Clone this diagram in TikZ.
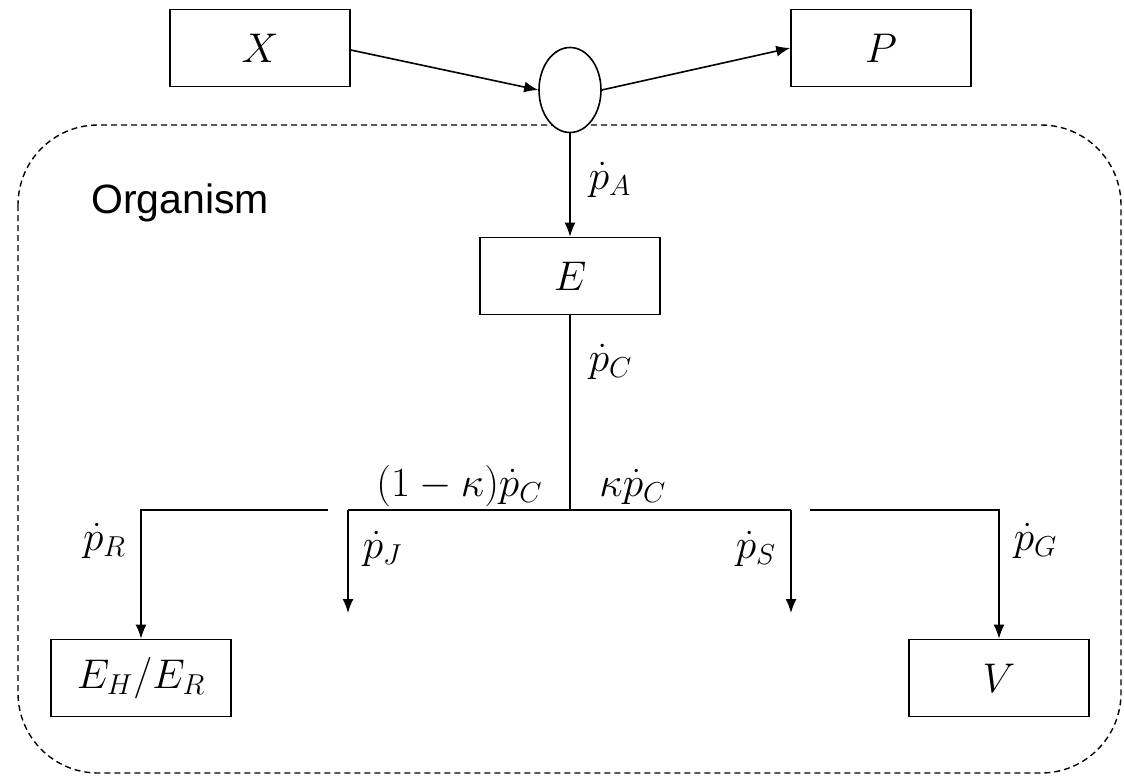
\documentclass[tikz,border=0pt]{standalone}
\usepackage{fontspec}
\setsansfont{Liberation Sans}
\usepackage{tikz}
\usetikzlibrary{shapes.geometric,positioning,arrows.meta}

\begin{document}
\begin{tikzpicture}[
    x=0.5pt, y=-0.5pt,
    box/.style={rectangle, draw, line width=0.8pt, minimum width=90pt, minimum height=38.5pt, align=center, fill=white, font=\fontsize{20}{24}\selectfont},
    flux/.style={font=\fontsize{20}{24}\selectfont, inner sep=1pt},
    arrow/.style={-{Latex[length=7pt,width=5.5pt]}, line width=0.8pt},
    line/.style={line width=0.8pt}
]
    \useasboundingbox (0,0) rectangle (1124,776);

    % Organism boundary
    \draw[dashed, dash pattern=on 3pt off 2pt, line width=0.7pt, rounded corners=40pt] (18,125) rectangle (1121,773);
    \node[font=\sffamily\fontsize{20.5}{24}\selectfont] (organism) at (180,203) {Organism};

    % Food, faeces and assimilation
    \node[box] (food) at (260,48) {$X$};
    \node[box] (faeces) at (881,48) {$P$};
    \node[ellipse, draw, line width=0.8pt, fill=white, minimum width=31pt, minimum height=42.5pt, inner sep=0pt] (assim) at (570,90) {};

    \draw[arrow] (food.east |- 0,50) -- (assim.west);
    \draw[arrow] (assim.east) -- (faeces.west);

    % Reserve
    \node[box] (reserve) at (570,276) {$E$};
    \draw[arrow] (assim) -- (reserve) node[flux, pos=0.45, right=8pt] {$\dot p_A$};

    % Kappa rule split
    \coordinate (split) at (570,510);
    \draw[line] (reserve) -- (split) node[flux, pos=0.24, right=8pt] {$\dot p_C$};
    \node[flux, anchor=base east] (kleft) at (545,496) {$(1-\kappa)\dot p_C$};
    \node[flux, anchor=base west] (kright) at (597,496) {$\kappa\dot p_C$};

    % Maturity / reproduction and structure
    \node[box] (matur) at (141,678) {$E_H/E_R$};
    \node[box] (struct) at (999,678) {$V$};

    \coordinate (jfrom) at (328,510);
    \coordinate (jleft) at (348,510);
    \coordinate (sright) at (791,510);
    \coordinate (gfrom) at (810,510);
    \coordinate (jend) at (348,613);
    \coordinate (send) at (791,613);

    \draw[arrow] (jfrom) -| (matur) node[flux, pos=0.62, left=6pt] {$\dot p_R$};
    \draw[arrow] (jleft) -- (jend) node[flux, pos=0.38, right=6pt] {$\dot p_J$};
    \draw[line] (jleft) -- (sright);
    \draw[arrow] (sright) -- (send) node[flux, pos=0.38, left=6pt] {$\dot p_S$};
    \draw[arrow] (gfrom) -| (struct) node[flux, pos=0.62, right=6pt] {$\dot p_G$};
\end{tikzpicture}
\end{document}
